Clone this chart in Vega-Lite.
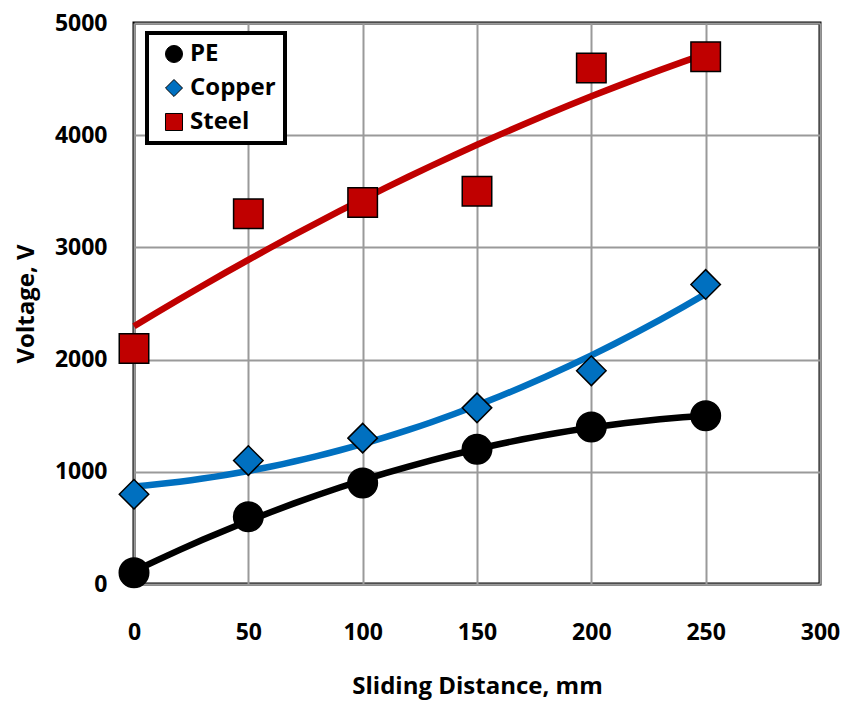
{
  "$schema": "https://vega.github.io/schema/vega-lite/v6.json",
  "width": 686,
  "height": 561,
  "autosize": "none",
  "padding": {"left": 134, "top": 23, "right": 25, "bottom": 118},
  "background": "white",
  "config": {
    "font": "Open Sans",
    "view": {"stroke": "black", "strokeWidth": 3},
    "legend": {"strokeWidth": 4},
    "axis": {
      "grid": true,
      "gridColor": "#9a9a9a",
      "gridWidth": 2,
      "domain": false,
      "ticks": false,
      "labelFlush": false,
      "labelFont": "Open Sans",
      "labelFontWeight": "bold",
      "labelFontSize": 23,
      "labelColor": "black",
      "titleFont": "Open Sans",
      "titleFontWeight": "bold",
      "titleFontSize": 24,
      "titleColor": "black"
    }
  },
  "data": {
    "values": [
      {"distance": 0, "voltage": 100, "series": "PE"},
      {"distance": 50, "voltage": 600, "series": "PE"},
      {"distance": 100, "voltage": 900, "series": "PE"},
      {"distance": 150, "voltage": 1200, "series": "PE"},
      {"distance": 200, "voltage": 1400, "series": "PE"},
      {"distance": 250, "voltage": 1500, "series": "PE"},
      {"distance": 0, "voltage": 800, "series": "Copper"},
      {"distance": 50, "voltage": 1100, "series": "Copper"},
      {"distance": 100, "voltage": 1300, "series": "Copper"},
      {"distance": 150, "voltage": 1570, "series": "Copper"},
      {"distance": 200, "voltage": 1900, "series": "Copper"},
      {"distance": 250, "voltage": 2670, "series": "Copper"},
      {"distance": 0, "voltage": 2100, "series": "Steel"},
      {"distance": 50, "voltage": 3300, "series": "Steel"},
      {"distance": 100, "voltage": 3400, "series": "Steel"},
      {"distance": 150, "voltage": 3500, "series": "Steel"},
      {"distance": 200, "voltage": 4600, "series": "Steel"},
      {"distance": 250, "voltage": 4700, "series": "Steel"}
    ]
  },
  "layer": [
    {
      "transform": [
        {"filter": "datum.series === 'PE'"},
        {"regression": "voltage", "on": "distance", "method": "poly", "order": 2, "extent": [0, 250]}
      ],
      "mark": {"type": "line", "strokeWidth": 6.5, "color": "black", "interpolate": "monotone"},
      "encoding": {
        "x": {"field": "distance", "type": "quantitative"},
        "y": {"field": "voltage", "type": "quantitative"}
      }
    },
    {
      "transform": [
        {"filter": "datum.series === 'Copper'"},
        {"regression": "voltage", "on": "distance", "method": "poly", "order": 2, "extent": [0, 250]}
      ],
      "mark": {"type": "line", "strokeWidth": 6.5, "color": "#0070C0", "interpolate": "monotone"},
      "encoding": {
        "x": {"field": "distance", "type": "quantitative"},
        "y": {"field": "voltage", "type": "quantitative"}
      }
    },
    {
      "transform": [
        {"filter": "datum.series === 'Steel'"},
        {"regression": "voltage", "on": "distance", "method": "poly", "order": 2, "extent": [0, 250]}
      ],
      "mark": {"type": "line", "strokeWidth": 6.5, "color": "#C00000", "interpolate": "monotone"},
      "encoding": {
        "x": {"field": "distance", "type": "quantitative"},
        "y": {"field": "voltage", "type": "quantitative"}
      }
    },
    {
      "mark": {"type": "point", "filled": true, "stroke": "black", "strokeWidth": 1.5, "opacity": 1, "size": 870},
      "encoding": {
        "x": {"field": "distance", "type": "quantitative",
          "scale": {"domain": [0, 300], "nice": false, "zero": false},
          "axis": {"values": [0, 50, 100, 150, 200, 250, 300], "format": "d", "labelPadding": 37, "title": "Sliding Distance, mm", "titlePadding": 30}},
        "y": {"field": "voltage", "type": "quantitative",
          "scale": {"domain": [0, 5000], "nice": false},
          "axis": {"values": [0, 1000, 2000, 3000, 4000, 5000], "format": "d", "labelPadding": 27, "title": "Voltage, V", "titlePadding": 16}},
        "fill": {"field": "series", "type": "nominal",
          "scale": {"domain": ["PE", "Copper", "Steel"], "range": ["black", "#0070C0", "#C00000"]},
          "legend": {
            "title": null, "orient": "none", "legendX": 13, "legendY": 10,
            "strokeColor": "black", "fillColor": "white",
            "padding": 9, "rowPadding": 10, "symbolSize": 290, "symbolStrokeColor": "black", "symbolStrokeWidth": 1,
            "labelFont": "Open Sans", "labelFontSize": 24, "labelFontWeight": "bold", "labelColor": "black",
            "symbolOffset": 6, "labelOffset": 4
          }},
        "shape": {"field": "series", "type": "nominal",
          "scale": {"domain": ["PE", "Copper", "Steel"], "range": ["circle", "diamond", "square"]}}
      }
    }
  ]
}
